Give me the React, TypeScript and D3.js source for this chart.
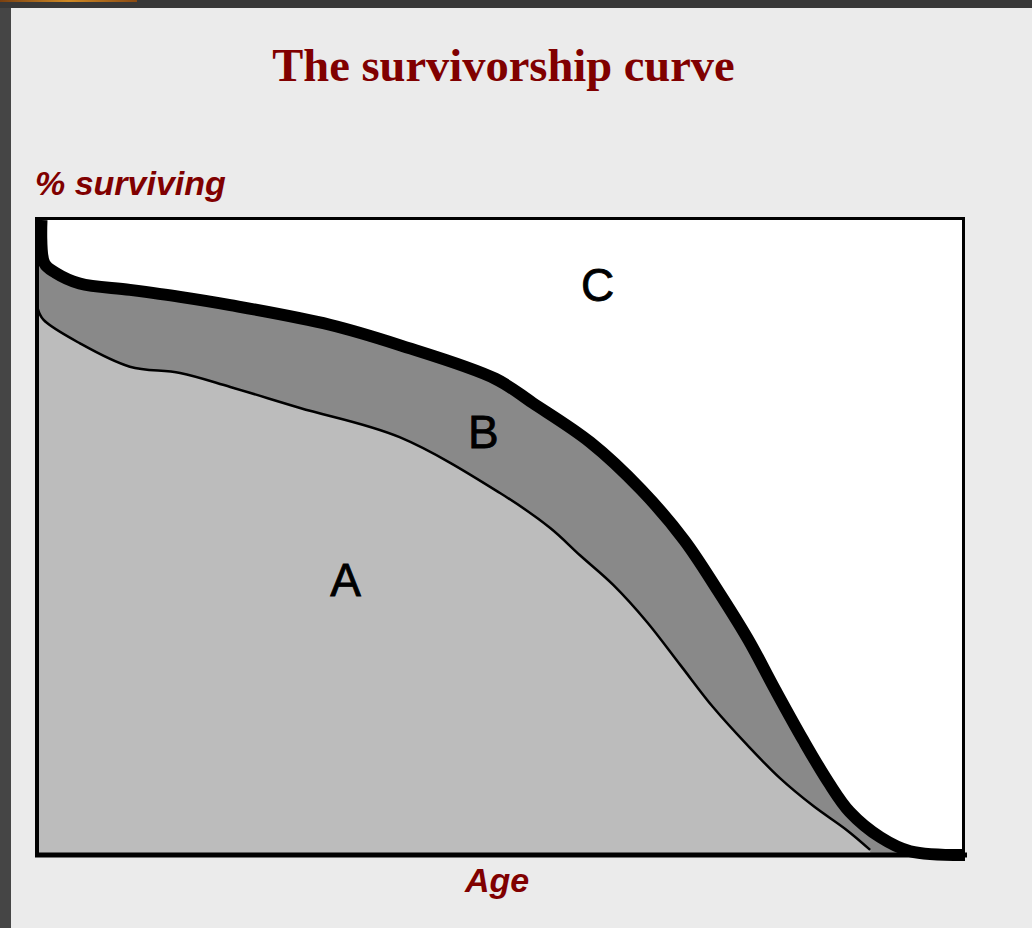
import * as d3 from "d3";

// outer (thick) curve: total survival, inner (thin) curve: boundary of region A
const outerAge = [0.7, 1.0, 2.2, 4.8, 10.2, 15.6, 21, 31.7, 39.2, 49.5, 53.5, 59.7, 65.2, 69.8, 73.4, 76.7, 79.6, 82.6, 85.3, 87.6, 90.9, 94.1, 100];
const outerSurvival = [100, 93.2, 91.7, 90, 89, 87.9, 86.6, 83.5, 80.3, 75, 71.2, 65.0, 57.5, 49.6, 41.7, 33.9, 26.0, 18.1, 11.5, 6.8, 2.8, 0.6, 0];
const innerAge = [0.3, 0.9, 4.8, 10.2, 15.6, 21, 28.5, 39.2, 50, 55.4, 58.6, 62.2, 65.8, 69.4, 72.9, 76.6, 80.1, 83.7, 87.3, 89.8];
const innerSurvival = [86, 84.3, 80.6, 76.9, 75.9, 73.7, 70.4, 65.8, 57, 51.5, 47.2, 42.5, 36.7, 29.9, 23.3, 17.3, 12.1, 7.7, 3.9, 0.8];

const regionLabels = ["A", "B", "C"];
const labelAge = [33.4, 48.2, 60.5];
const labelSurvival = [43.3, 66.6, 89.8];

const W = 1032;
const H = 928;
const plot = { left: 35, right: 965, top: 220, bottom: 855 };
const red = "#800000";

type Pt = [number, number];

export default function App() {
  const x = d3.scaleLinear().domain([0, 100]).range([plot.left, plot.right]);
  const y = d3.scaleLinear().domain([0, 100]).range([plot.bottom, plot.top]);

  const outer: Pt[] = outerAge.map((a, i) => [a, outerSurvival[i]]);
  const inner: Pt[] = innerAge.map((a, i) => [a, innerSurvival[i]]);
  // fills reach the left axis
  const outerFill: Pt[] = [[0, outerSurvival[0]], ...outer];
  const innerFill: Pt[] = [[0, innerSurvival[0]], ...inner];

  const curve = d3.curveCatmullRom.alpha(0.5);
  const area = d3
    .area<Pt>()
    .x((d) => x(d[0]))
    .y0(y(0))
    .y1((d) => y(d[1]))
    .curve(curve);
  const line = d3
    .line<Pt>()
    .x((d) => x(d[0]))
    .y((d) => y(d[1]))
    .curve(curve);

  return (
    <svg
      width={W}
      height={H}
      style={{ position: "absolute", left: 0, top: 0, display: "block" }}
    >
      <defs>
        <linearGradient id="orange" x1="0" x2="1">
          <stop offset="0" stopColor="#7a4010" />
          <stop offset="0.5" stopColor="#d08a24" />
          <stop offset="1" stopColor="#8a4a12" />
        </linearGradient>
      </defs>
      <rect width={W} height={H} fill="#ebebeb" />
      <rect x={0} y={0} width={11} height={H} fill="#454545" />
      <rect x={0} y={0} width={W} height={8} fill="#383838" />
      <rect x={0} y={0} width={137} height={2} fill="url(#orange)" />

      <text
        x={503.5}
        y={81}
        textAnchor="middle"
        fontFamily="'Liberation Serif', 'Times New Roman', serif"
        fontWeight="bold"
        fontSize={46.5}
        fill={red}
      >
        The survivorship curve
      </text>

      <text
        x={35}
        y={195}
        fontFamily="'Liberation Sans', Arial, sans-serif"
        fontWeight="bold"
        fontStyle="italic"
        fontSize={34}
        fill={red}
      >
        % surviving
      </text>

      <text
        x={497}
        y={892}
        textAnchor="middle"
        fontFamily="'Liberation Sans', Arial, sans-serif"
        fontWeight="bold"
        fontStyle="italic"
        fontSize={34}
        fill={red}
      >
        Age
      </text>

      <rect
        x={plot.left}
        y={plot.top}
        width={plot.right - plot.left}
        height={plot.bottom - plot.top}
        fill="#ffffff"
      />
      <path d={area(outerFill) ?? ""} fill="#898989" />
      <path d={area(innerFill) ?? ""} fill="#bcbcbc" />
      <path d={line(inner) ?? ""} fill="none" stroke="#000" strokeWidth={2.5} />
      <path
        d={line(outer) ?? ""}
        fill="none"
        stroke="#000"
        strokeWidth={12}
        strokeLinejoin="round"
      />

      <line x1={plot.left} x2={plot.right} y1={plot.top - 1.5} y2={plot.top - 1.5} stroke="#000" strokeWidth={3} />
      <line x1={plot.right - 1.5} x2={plot.right - 1.5} y1={plot.top - 3} y2={plot.bottom} stroke="#000" strokeWidth={3} />
      <line x1={plot.left + 2} x2={plot.left + 2} y1={plot.top - 3} y2={plot.bottom + 2} stroke="#000" strokeWidth={4} />
      <line x1={plot.left} x2={plot.right + 2} y1={plot.bottom} y2={plot.bottom} stroke="#000" strokeWidth={5} />

      {regionLabels.map((t, i) => (
        <text
          key={t}
          x={x(labelAge[i])}
          y={y(labelSurvival[i])}
          textAnchor="middle"
          dominantBaseline="central"
          fontFamily="'Liberation Sans', Arial, sans-serif"
          fontSize={46}
          fill="#000"
          stroke="#000"
          strokeWidth={0.8}
        >
          {t}
        </text>
      ))}
    </svg>
  );
}
